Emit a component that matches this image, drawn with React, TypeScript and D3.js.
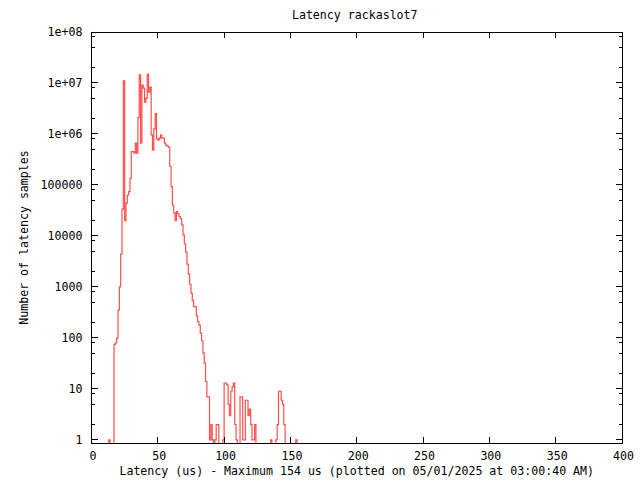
import { useEffect, useRef } from "react";
import * as d3 from "d3";

const title = "Latency rackaslot7";
const xLabel = "Latency (us) - Maximum 154 us (plotted on 05/01/2025 at 03:00:40 AM)";
const yLabel = "Number of latency samples";

// samples per 1 us bin, starting at 0 us
const samples = [
  0, 0, 0, 0, 0, 0, 0, 0, 0, 0, 0, 0, 0, 1, 0, 0, 0, 75, 80, 100,
  350, 1000, 4400, 33500, 11000000, 20000, 44000, 63000, 74000, 135000,
  450000, 450000, 420000, 660000, 420000, 2100000, 14400000, 660000, 9100000, 7900000,
  4200000, 5000000, 15000000, 6600000, 8300000, 960000, 480000, 1260000, 2500000, 800000,
  760000, 830000, 960000, 830000, 830000, 660000, 600000, 580000, 550000, 230000,
  93000, 40000, 28000, 20000, 30000, 27000, 24000, 22000, 16500, 10500,
  7000, 4800, 2800, 1780, 1130, 750, 540, 410, 410, 270,
  210, 178, 123, 88, 51, 32, 14, 7, 7, 1,
  2, 1, 0, 1, 2, 2, 0, 0, 0, 1,
  13, 13, 12, 5, 3, 9, 11, 13, 2, 1,
  0, 0, 7, 7, 1, 1, 6, 6, 3, 4,
  2, 1, 1, 2, 0, 0, 0, 0, 0, 0,
  0, 0, 0, 0, 0, 1, 0, 0, 0, 1,
  2, 9, 9, 6, 5, 2, 0, 0, 0, 0,
  0, 0, 0, 0, 1, 0,
];

const xTicks = [0, 50, 100, 150, 200, 250, 300, 350, 400];
const yTicks = [1, 10, 100, 1000, 10000, 100000, 1e6, 1e7, 1e8];
const yTickLabels = ["1", "10", "100", "1000", "10000", "100000", "1e+06", "1e+07", "1e+08"];
const minorSteps = [2, 5, 8];

const W = 640;
const H = 480;
const left = 91.5;
const right = 622;
const top = 32;
const bottom = 443;
const font = "'DejaVu Sans Mono', monospace";
const red = "#ff4f4f";

export default function App() {
  const ref = useRef<SVGSVGElement>(null);

  useEffect(() => {
    const svg = d3.select(ref.current);
    svg.selectAll("*").remove();

    const x = d3.scaleLinear().domain([0, 400]).range([left, right]);
    const y = d3.scaleLog().domain([0.87, 1e8]).range([bottom, top]);

    svg.append("rect").attr("width", W).attr("height", H).attr("fill", "#fff");

    svg.append("clipPath").attr("id", "plot")
      .append("rect")
      .attr("x", left).attr("y", top)
      .attr("width", right - left).attr("height", bottom - top);

    // histogram as steps
    const pts = samples.map((v, i) => [i, v] as [number, number]);
    pts.push([samples.length, 0]);
    const line = d3.line<[number, number]>()
      .x((d) => x(d[0]))
      .y((d) => (d[1] > 0 ? y(d[1]) : bottom + 10))
      .curve(d3.curveStepAfter);

    svg.append("path")
      .attr("clip-path", "url(#plot)")
      .attr("d", line(pts))
      .attr("fill", "none")
      .attr("stroke", red)
      .attr("stroke-width", 1.2);

    const g = svg.append("g").attr("stroke", "#000").attr("stroke-width", 1)
      .attr("shape-rendering", "crispEdges");

    // y ticks, both sides
    yTicks.forEach((t) => {
      const yy = y(t);
      g.append("line").attr("x1", left).attr("x2", left + 6).attr("y1", yy).attr("y2", yy);
      g.append("line").attr("x1", right).attr("x2", right - 6).attr("y1", yy).attr("y2", yy);
      if (t < 1e8) {
        minorSteps.forEach((m) => {
          const ym = y(t * m);
          g.append("line").attr("x1", left).attr("x2", left + 3).attr("y1", ym).attr("y2", ym);
          g.append("line").attr("x1", right).attr("x2", right - 3).attr("y1", ym).attr("y2", ym);
        });
      }
    });

    // x ticks, bottom and top
    xTicks.forEach((t) => {
      const xx = x(t);
      g.append("line").attr("x1", xx).attr("x2", xx).attr("y1", bottom).attr("y2", bottom - 6);
      g.append("line").attr("x1", xx).attr("x2", xx).attr("y1", top).attr("y2", top + 6);
    });

    g.append("rect")
      .attr("x", left).attr("y", top)
      .attr("width", right - left).attr("height", bottom - top)
      .attr("fill", "none");

    const txt = svg.append("g")
      .style("font-family", font)
      .style("font-size", "11.6px")
      .attr("fill", "#000");

    txt.selectAll(".ylab")
      .data(yTicks)
      .enter()
      .append("text")
      .attr("x", left - 9)
      .attr("y", (d) => y(d) + 4)
      .attr("text-anchor", "end")
      .text((d, i) => yTickLabels[i]);

    txt.selectAll(".xlab")
      .data(xTicks)
      .enter()
      .append("text")
      .attr("x", (d) => x(d) + 1.5)
      .attr("y", bottom + 17)
      .attr("text-anchor", "middle")
      .text((d) => String(d));

    txt.append("text")
      .attr("x", (left + right) / 2)
      .attr("y", 475)
      .attr("text-anchor", "middle")
      .text(xLabel);

    txt.append("text")
      .attr("x", (left + right) / 2 - 2)
      .attr("y", 19)
      .attr("text-anchor", "middle")
      .text(title);

    txt.append("text")
      .attr("transform", `translate(28, ${(top + bottom) / 2}) rotate(-90)`)
      .attr("text-anchor", "middle")
      .text(yLabel);
  }, []);

  return (
    <svg
      ref={ref}
      width={W}
      height={H}
      style={{ position: "absolute", left: 0, top: 0, display: "block" }}
    />
  );
}
